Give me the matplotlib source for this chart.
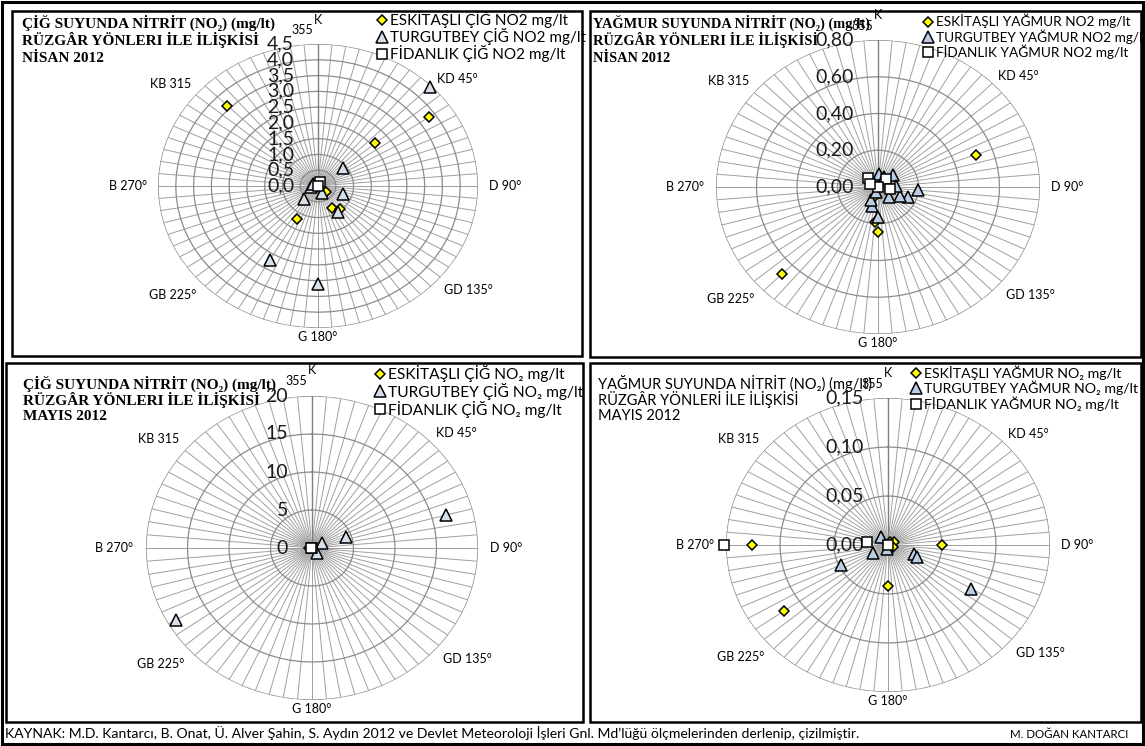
import numpy as np
import matplotlib
matplotlib.use("Agg")
import matplotlib.pyplot as plt
from matplotlib.patches import Rectangle
from matplotlib.transforms import offset_copy

W, H = 1145, 746
SANS = ["Lato", "DejaVu Sans"]
SERIF = ["Liberation Serif", "DejaVu Serif"]

# Wind direction categories (every 5 degrees) and their printed names
directions = list(range(0, 360, 5))
direction_names = ["K", "KD 45°", "D 90°", "GD 135°", "G 180°", "GB 225°", "B 270°", "KB 315", "355"]
# where each name sits: (angle of text, distance as a share of the outer ring)
name_places = [(0, 1.17), (49, 1.15), (90, 1.17), (128, 1.19), (180, 1.06),
               (230, 1.19), (270, 1.19), (308, 1.17), (355, 1.10)]

# ---- April 2012, raw water (mg/lt) ----
nisan_cig_eskitasli_dir = [315, 55, 50, 150, 140, 210, 130, 0]
nisan_cig_eskitasli_val = [3.6, 3.8, 2.1, 0.8, 0.95, 1.2, 0.3, 0.0]
nisan_cig_turgutbey_dir = [45, 50, 110, 225, 145, 210, 180, 150, 260, 300]
nisan_cig_turgutbey_val = [4.45, 0.9, 0.75, 0.57, 1.0, 2.7, 3.1, 0.25, 0.2, 0.15]
nisan_cig_fidanlik_dir = [20, 0]
nisan_cig_fidanlik_val = [0.15, 0.0]

# ---- April 2012, rain water (mg/lt) ----
nisan_yag_eskitasli_dir = [70, 225, 180, 185, 200, 0]
nisan_yag_eskitasli_val = [0.515, 0.67, 0.245, 0.19, 0.05, 0.0]
nisan_yag_turgutbey_dir = [180, 195, 205, 50, 5, 95, 110, 115, 135, 85, 200, 30]
nisan_yag_turgutbey_val = [0.163, 0.106, 0.076, 0.099, 0.071, 0.198, 0.16, 0.12, 0.077, 0.09, 0.03, 0.06]
nisan_yag_fidanlik_dir = [315, 40, 0, 100, 290]
nisan_yag_fidanlik_val = [0.07, 0.058, 0.0, 0.06, 0.04]

# ---- May 2012, raw water (mg/lt) ----
mayis_cig_eskitasli_dir = [270, 0]
mayis_cig_eskitasli_val = [0.4, 0.0]
mayis_cig_turgutbey_dir = [75, 70, 240, 60, 140]
mayis_cig_turgutbey_val = [16.7, 4.4, 18.9, 1.4, 0.9]
mayis_cig_fidanlik_dir = [0, 270]
mayis_cig_fidanlik_val = [0.0, 0.1]

# ---- May 2012, rain water (mg/lt) ----
mayis_yag_eskitasli_dir = [270, 235, 180, 90, 30, 60, 120]
mayis_yag_eskitasli_val = [0.126, 0.117, 0.042, 0.050, 0.004, 0.006, 0.005]
mayis_yag_turgutbey_dir = [245, 110, 115, 120, 240, 200, 320]
mayis_yag_turgutbey_val = [0.048, 0.026, 0.0295, 0.089, 0.016, 0.004, 0.01]
mayis_yag_fidanlik_dir = [270, 280, 0]
mayis_yag_fidanlik_val = [0.152, 0.0197, 0.0]

fig = plt.figure(figsize=(W / 100, H / 100), dpi=100)
fig.patch.set_facecolor("white")

# frames around the whole sheet and each panel
overlay = fig.add_axes([0, 0, 1, 1], zorder=-1)
overlay.set_xlim(0, W)
overlay.set_ylim(H, 0)
overlay.axis("off")
overlay.add_patch(Rectangle((2, 2), W - 4, H - 4, fill=False, ec="black", lw=2.2))
for (x0, y0, x1, y1) in [(12, 11, 582, 356), (590, 11, 1141, 357),
                         (6, 363, 583, 722), (590, 363, 1141, 722)]:
    overlay.add_patch(Rectangle((x0, y0), x1 - x0, y1 - y0, fill=False, ec="black", lw=1.8))


def radar(box, rmax, step, fmt, series, tri_fill, legend_xy, legend_size, legend_gap):
    x0, y0, x1, y1 = box
    ax = fig.add_axes([x0 / W, 1 - y1 / H, (x1 - x0) / W, (y1 - y0) / H], projection="polar")
    ax.set_aspect("auto")
    ax.set_theta_zero_location("N")
    ax.set_theta_direction(-1)
    ax.set_ylim(0, rmax)
    ax.set_xticks([])
    ax.set_yticks([])
    ax.grid(False)
    ax.spines["polar"].set_visible(False)
    ax.patch.set_alpha(0)

    th = np.deg2rad(directions)
    for t in th:
        ax.plot([t, t], [0, rmax], color="#a0a0a0", lw=0.7, zorder=1)
    ring_t = np.deg2rad(np.arange(0, 361, 5))
    levels = np.arange(step, rmax + step / 2, step)
    for r in levels:
        ax.plot(ring_t, np.full(ring_t.shape, r), color="#8c8c8c", lw=0.9, zorder=1)
    ax.plot([0, 0], [0, rmax], color="#7f7f7f", lw=1.0, zorder=1)

    # value labels along the north axis
    tr = offset_copy(ax.transData, fig=fig, x=-24, y=0, units="dots")
    for r in np.concatenate([[0], levels]):
        ax.text(0, r, fmt(r), transform=tr, ha="right", va="center",
                fontsize=14, family=SANS, color="#1a1a1a", zorder=2)

    for name, (ang, f) in zip(direction_names, name_places):
        ax.text(np.deg2rad(ang), rmax * f, name, ha="center", va="center",
                fontsize=9, family=SANS, clip_on=False)

    styles = [dict(marker="D", ms=5.6, mfc="#FFFF00"),
              dict(marker="^", ms=8.5, mfc=tri_fill),
              dict(marker="s", ms=7.8, mfc="white")]
    handles = []
    for (label, dirs, vals), st in zip(series, styles):
        h, = ax.plot(np.deg2rad(dirs), vals, ls="none", mec="black", mew=1.1,
                     clip_on=False, zorder=3, label=label, **st)
        handles.append(h)
    ax.legend(handles=handles, loc="upper left",
              bbox_to_anchor=(legend_xy[0] / W, 1 - legend_xy[1] / H),
              bbox_transform=fig.transFigure, frameon=False, borderpad=0,
              borderaxespad=0, handlelength=0.6, handletextpad=0.25,
              labelspacing=legend_gap, prop=dict(family=SANS, size=legend_size))
    return ax


def comma(digits):
    return lambda v: f"{v:.{digits}f}".replace(".", ",") if digits else f"{v:.0f}"


radar((158, 44, 478, 328), 4.5, 0.5, comma(1),
      [("ESKİTAŞLI ÇİĞ NO2 mg/lt", nisan_cig_eskitasli_dir, nisan_cig_eskitasli_val),
       ("TURGUTBEY ÇİĞ NO2 mg/lt", nisan_cig_turgutbey_dir, nisan_cig_turgutbey_val),
       ("FİDANLIK ÇİĞ NO2 mg/lt", nisan_cig_fidanlik_dir, nisan_cig_fidanlik_val)],
      "#d6e0ec", (377, 11), 11, 0.0)

radar((716, 40, 1040, 334), 0.8, 0.2, comma(2),
      [("ESKİTAŞLI YAĞMUR NO2 mg/lt", nisan_yag_eskitasli_dir, nisan_yag_eskitasli_val),
       ("TURGUTBEY YAĞMUR NO2 mg/lt", nisan_yag_turgutbey_dir, nisan_yag_turgutbey_val),
       ("FİDANLIK YAĞMUR NO2 mg/lt", nisan_yag_fidanlik_dir, nisan_yag_fidanlik_val)],
      "#b9cde5", (924, 14), 9.8, 0.05)

radar((146, 396, 478, 700), 20, 5, comma(0),
      [("ESKİTAŞLI ÇİĞ NO₂ mg/lt", mayis_cig_eskitasli_dir, mayis_cig_eskitasli_val),
       ("TURGUTBEY ÇİĞ NO₂ mg/lt", mayis_cig_turgutbey_dir, mayis_cig_turgutbey_val),
       ("FİDANLIK ÇİĞ NO₂ mg/lt", mayis_cig_fidanlik_dir, mayis_cig_fidanlik_val)],
      "#d6e0ec", (375, 365), 11.2, 0.05)

radar((726, 398, 1050, 692), 0.15, 0.05, comma(2),
      [("ESKİTAŞLI YAĞMUR NO₂ mg/lt", mayis_yag_eskitasli_dir, mayis_yag_eskitasli_val),
       ("TURGUTBEY YAĞMUR NO₂ mg/lt", mayis_yag_turgutbey_dir, mayis_yag_turgutbey_val),
       ("FİDANLIK YAĞMUR NO₂ mg/lt", mayis_yag_fidanlik_dir, mayis_yag_fidanlik_val)],
      "#b9cde5", (912, 365), 10.2, 0.1)

# panel titles
titles = [
    ((22, 23), ["ÇİĞ SUYUNDA NİTRİT (NO₂) (mg/lt)", "RÜZGÂR YÖNLERI İLE İLİŞKİSİ", "NİSAN 2012"], SERIF, "bold", 17.5, 11),
    ((593, 23), ["YAĞMUR SUYUNDA NİTRİT (NO₂) (mg/lt)", "RÜZGÂR YÖNLERI İLE İLİŞKİSİ", "NİSAN 2012"], SERIF, "bold", 17.5, 10.4),
    ((23, 384), ["ÇİĞ SUYUNDA NİTRİT (NO₂) (mg/lt)", "RÜZGÂR YÖNLERI İLE İLİŞKİSİ", "MAYIS 2012"], SERIF, "bold", 16, 11),
    ((598, 383), ["YAĞMUR SUYUNDA NİTRİT (NO₂) (mg/lt)", "RÜZGÂR YÖNLERİ İLE İLİŞKİSİ", "MAYIS 2012"], SANS, "normal", 16.5, 10.5),
]
for (tx, ty), lines, fam, wt, gap, size in titles:
    for i, line in enumerate(lines):
        overlay.text(tx, ty + i * gap, line, ha="left", va="center", family=fam,
                     weight=wt, fontsize=size)

overlay.text(5, 733, "KAYNAK: M.D. Kantarcı, B. Onat, Ü. Alver Şahin, S. Aydın 2012 ve Devlet "
             "Meteoroloji İşleri Gnl. Md’lüğü ölçmelerinden derlenip, çizilmiştir.",
             ha="left", va="center", family=SANS, fontsize=10.1)
overlay.text(1010, 735, "M. DOĞAN KANTARCI", ha="left", va="center", family=SANS, fontsize=8.3)

fig.savefig("out.png", dpi=100, facecolor="white")
